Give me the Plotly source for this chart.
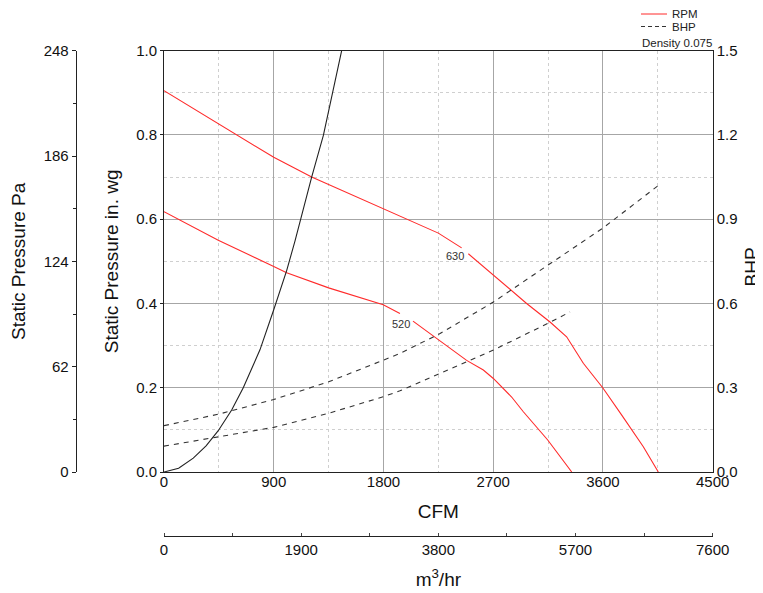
import plotly.graph_objects as go

# ---------------- data ----------------
CFM_630 = [0, 449, 900, 1211, 1350, 1798, 2250, 2441, None, 2496, 2701, 2851, 2974,
           3166, 3302, 3439, 3598, 3754, 3931, 4054]
SP_630 = [0.905, 0.826, 0.747, 0.700, 0.682, 0.625, 0.567, 0.532, None, 0.518, 0.468,
          0.431, 0.400, 0.356, 0.321, 0.258, 0.200, 0.135, 0.060, 0.0]

CFM_520 = [0, 445, 900, 1006, 1350, 1798, 1935, None, 2042, 2264, 2482, 2619, 2701,
           2851, 2947, 3147, 3344]
SP_520 = [0.618, 0.550, 0.488, 0.473, 0.437, 0.397, 0.376, None, 0.358, 0.310, 0.265,
          0.242, 0.222, 0.178, 0.143, 0.076, 0.0]

BHP_CFM_630 = [0, 449, 900, 1350, 1798, 1935, 2264, 2701, 3147, 3598, 4054]
BHP_630 = [0.165, 0.206, 0.258, 0.321, 0.398, 0.422, 0.493, 0.605, 0.736, 0.868, 1.020]

BHP_CFM_520 = [0, 449, 900, 1350, 1798, 1935, 2264, 2701, 3147, 3330]
BHP_520 = [0.092, 0.126, 0.159, 0.209, 0.268, 0.289, 0.351, 0.434, 0.529, 0.570]

SYS_CFM = [0, 120, 240, 345, 445, 555, 650, 787, 900, 1006, 1074, 1211, 1307, 1457]
SYS_SP = [0, 0.009, 0.033, 0.062, 0.098, 0.147, 0.200, 0.290, 0.385, 0.478, 0.548,
          0.700, 0.799, 1.0]

RPM_LABELS = ["630", "520"]
RPM_LABEL_CFM = [2386, 1944]
RPM_LABEL_SP = [0.512, 0.351]

CFM_TICKS = [0, 900, 1800, 2700, 3600, 4500]
SP_TICKS = [0.0, 0.2, 0.4, 0.6, 0.8, 1.0]
BHP_TICKS = [0.0, 0.3, 0.6, 0.9, 1.2, 1.5]
PA_TICKS = [0, 62, 124, 186, 248]
M3HR_TICKS = [0, 1900, 3800, 5700, 7600]

# ---------------- layout geometry (screen pixels, page has an 8px body margin) ----------------
OFF = 8
W, H = 763 - OFF, 593 - OFF
L, R, T, B = 164, 712.7, 50.7, 472


def px(x):
    return (x - OFF) / W


def py(y):
    return 1 - (y - OFF) / H


XDOM = [px(L), px(R)]
YDOM = [py(B), py(T)]
FONT = "Liberation Sans, Arial, sans-serif"
RED = "#ff2b2b"
MAJ = "#a6a6a6"
MIN = "#cfcfcf"

fig = go.Figure()

fig.add_trace(go.Scatter(x=CFM_630, y=SP_630, mode="lines", connectgaps=False,
                         line=dict(color=RED, width=1.1), showlegend=False, hoverinfo="skip"))
fig.add_trace(go.Scatter(x=CFM_520, y=SP_520, mode="lines", connectgaps=False,
                         line=dict(color=RED, width=1.1), showlegend=False, hoverinfo="skip"))
fig.add_trace(go.Scatter(x=SYS_CFM, y=SYS_SP, mode="lines",
                         line=dict(color="#222222", width=1.1), showlegend=False,
                         hoverinfo="skip"))
fig.add_trace(go.Scatter(x=BHP_CFM_630, y=BHP_630, mode="lines", yaxis="y2",
                         line=dict(color="#333333", width=1.1, dash="5px,5px"),
                         showlegend=False, hoverinfo="skip"))
fig.add_trace(go.Scatter(x=BHP_CFM_520, y=BHP_520, mode="lines", yaxis="y2",
                         line=dict(color="#333333", width=1.1, dash="5px,5px"),
                         showlegend=False, hoverinfo="skip"))
# helper trace so that the secondary unit axes are drawn
fig.add_trace(go.Scatter(x=[M3HR_TICKS[0], M3HR_TICKS[-1]], y=[PA_TICKS[0], PA_TICKS[-1]],
                         xaxis="x2", yaxis="y3", mode="markers",
                         marker=dict(opacity=0), showlegend=False, hoverinfo="skip"))

for txt, xv, yv in zip(RPM_LABELS, RPM_LABEL_CFM, RPM_LABEL_SP):
    fig.add_annotation(x=xv, y=yv, xref="x", yref="y", text=txt, showarrow=False,
                       font=dict(size=11, color="#333333", family=FONT))

tickfont = dict(size=15, color="#111111", family=FONT)
titlefont = dict(size=19, color="#111111", family=FONT)

fig.update_layout(
    width=W, height=H,
    margin=dict(l=0, r=0, t=0, b=0, autoexpand=False),
    paper_bgcolor="white", plot_bgcolor="white",
    font=dict(family=FONT),
    xaxis=dict(domain=XDOM, range=[0, 4500], tickvals=CFM_TICKS, automargin=False,
               ticktext=[str(v) for v in CFM_TICKS],
               showgrid=True, gridcolor=MAJ, gridwidth=1, zeroline=False,
               showline=True, linecolor="#222222", linewidth=1, mirror=True,
               ticks="", tickfont=tickfont, ticklabelstandoff=-4,
               minor=dict(dtick=450, showgrid=True, gridcolor=MIN, griddash="dot", gridwidth=1),
               title=dict(text="CFM", font=titlefont, standoff=15)),
    yaxis=dict(domain=YDOM, range=[0, 1], tickvals=SP_TICKS, automargin=False,
               ticktext=[f"{v:.1f}" for v in SP_TICKS],
               showgrid=True, gridcolor=MAJ, gridwidth=1, zeroline=False,
               showline=True, linecolor="#222222", linewidth=1, mirror=True,
               ticks="outside", ticklen=3, tickcolor="#222222", tickfont=tickfont,
               minor=dict(dtick=0.1, showgrid=True, gridcolor=MIN, griddash="dot", gridwidth=1),
               title=dict(text="Static Pressure in. wg", font=titlefont, standoff=12)),
    yaxis2=dict(overlaying="y", side="right", anchor="x", range=[0, 1.5], automargin=False,
                tickvals=BHP_TICKS, ticktext=[f"{v:.1f}" for v in BHP_TICKS],
                showgrid=False, zeroline=False, showline=True, linecolor="#222222",
                ticks="", tickfont=tickfont),
    yaxis3=dict(overlaying="y", side="left", anchor="free", position=px(75.7), automargin=False,
                domain=YDOM, range=[0, 248], tickvals=PA_TICKS,
                ticktext=[str(v) for v in PA_TICKS],
                showgrid=False, zeroline=False, showline=True, linecolor="#222222",
                ticks="outside", ticklen=4, tickcolor="#222222", tickfont=tickfont,
                minor=dict(dtick=31, ticks="outside", ticklen=3, tickcolor="#222222"),
                title=dict(text="Static Pressure Pa", font=titlefont, standoff=13)),
    xaxis2=dict(overlaying="x", side="bottom", anchor="free", position=py(536), automargin=False,
                domain=XDOM, range=[0, 7600], tickvals=M3HR_TICKS,
                ticktext=[str(v) for v in M3HR_TICKS],
                showgrid=False, zeroline=False, showline=True, linecolor="#222222",
                ticks="", tickfont=tickfont,
                minor=dict(dtick=950, ticks="inside", ticklen=3, tickcolor="#444444"),
                title=dict(text="m<sup>3</sup>/hr", font=titlefont, standoff=15)),
)

# right axis title (placed explicitly so it is not clamped by the zero margin)
fig.add_annotation(xref="paper", yref="paper", x=px(751), y=py(267.5), text="BHP",
                   textangle=-90, showarrow=False, xanchor="center", yanchor="middle",
                   font=titlefont)

# legend drawn as sample lines + text
fig.add_shape(type="line", xref="paper", yref="paper", x0=px(641), x1=px(667),
              y0=py(14), y1=py(14), line=dict(color=RED, width=1))
fig.add_shape(type="line", xref="paper", yref="paper", x0=px(641), x1=px(667),
              y0=py(26.5), y1=py(26.5), line=dict(color="#333333", width=1, dash="4px,3px"))
legfont = dict(size=11.5, color="#222222", family=FONT)
fig.add_annotation(xref="paper", yref="paper", x=px(670), y=py(14.5), text="RPM",
                   showarrow=False, xanchor="left", yanchor="middle", font=legfont)
fig.add_annotation(xref="paper", yref="paper", x=px(670), y=py(27), text="BHP",
                   showarrow=False, xanchor="left", yanchor="middle", font=legfont)
fig.add_annotation(xref="paper", yref="paper", x=px(640), y=py(43), text="Density 0.075",
                   showarrow=False, xanchor="left", yanchor="middle", font=legfont)

fig.write_html("out.html")
